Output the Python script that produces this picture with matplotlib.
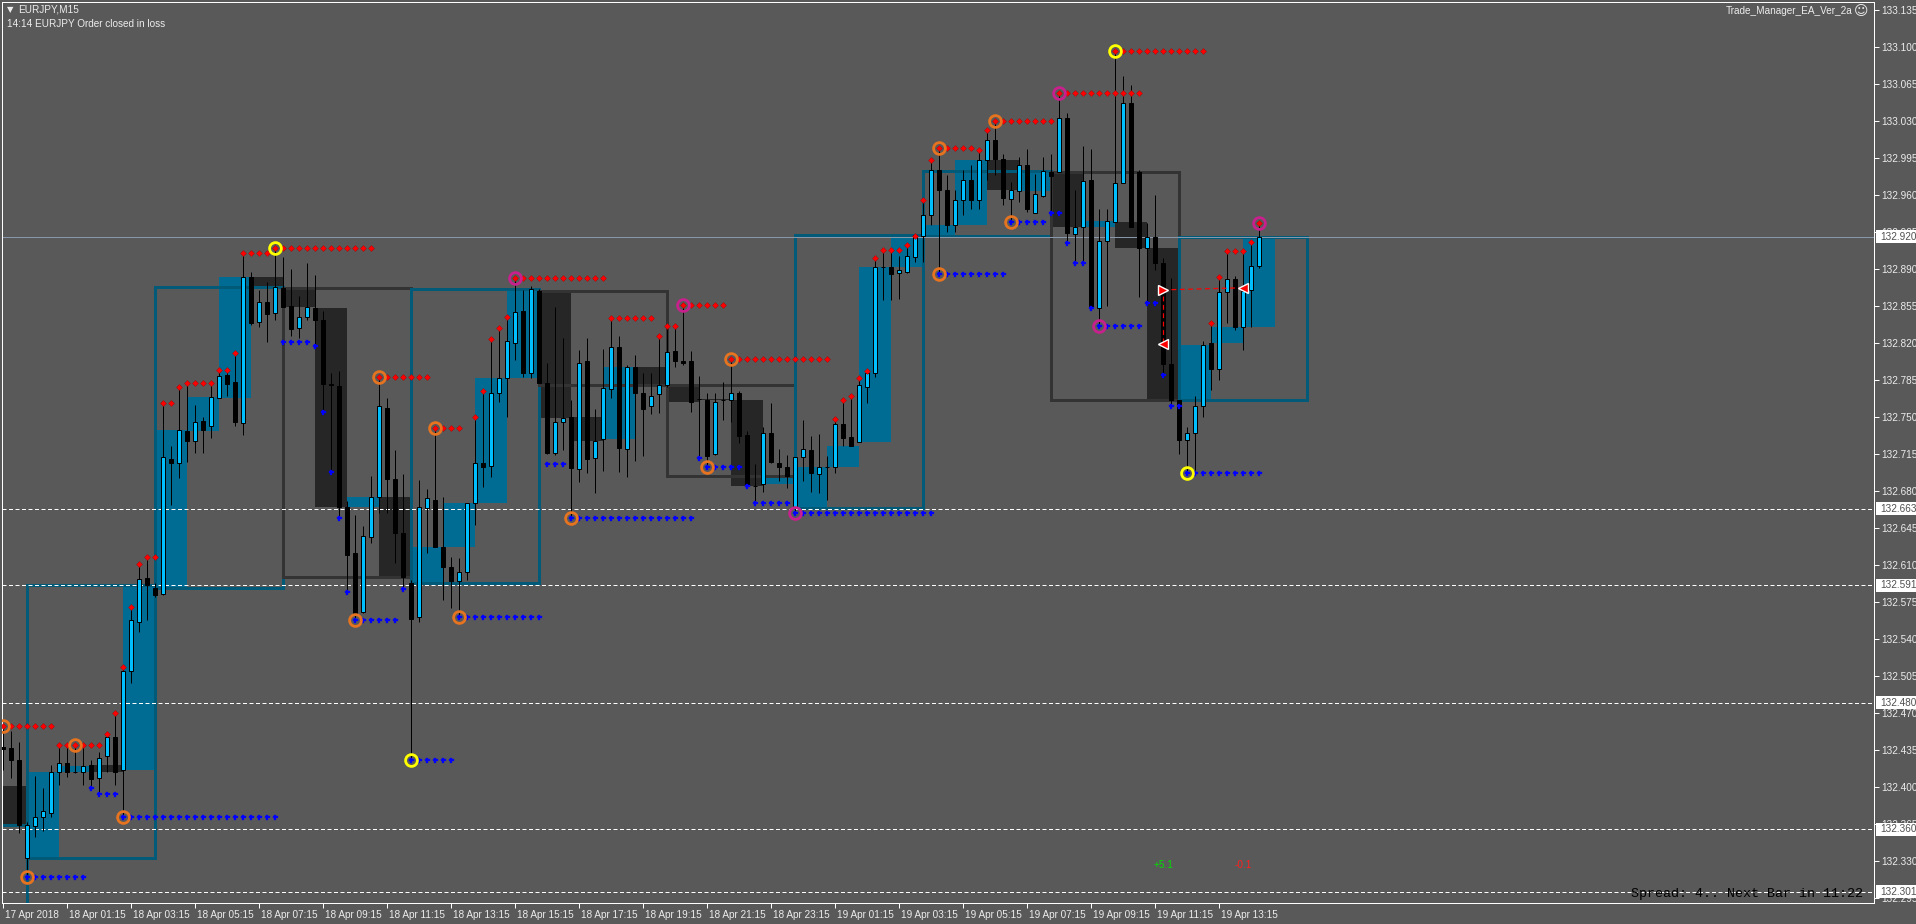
import matplotlib
matplotlib.use("Agg")
import matplotlib.pyplot as plt
import matplotlib.transforms as mtransforms
from matplotlib.patches import Rectangle

# ---- data (EURJPY M15, bar 0 = 17 Apr 23:15) ----
opens = [132.438, 132.437, 132.426, 132.333, 132.363, 132.372, 132.376, 132.414, 132.423, 132.414,
         132.414, 132.421, 132.409, 132.429, 132.447, 132.416, 132.510, 132.556, 132.598, 132.588,
         132.583, 132.710, 132.706, 132.737, 132.727, 132.746, 132.741, 132.768, 132.790, 132.783,
         132.744, 132.882, 132.840, 132.859, 132.848, 132.872, 132.855, 132.834, 132.844, 132.853,
         132.842, 132.781, 132.779, 132.665, 132.621, 132.566, 132.636, 132.674, 132.758, 132.691,
         132.640, 132.593, 132.561, 132.664, 132.671, 132.627, 132.608, 132.595, 132.603, 132.669,
         132.706, 132.704, 132.773, 132.787, 132.820, 132.850, 132.791, 132.869, 132.782, 132.716,
         132.745, 132.750, 132.701, 132.803, 132.711, 132.729, 132.776, 132.816, 132.720, 132.797,
         132.773, 132.760, 132.772, 132.780, 132.812, 132.803, 132.803, 132.767, 132.766, 132.715,
         132.766, 132.766, 132.773, 132.733, 132.685, 132.687, 132.735, 132.706, 132.703, 132.664,
         132.712, 132.719, 132.696, 132.703, 132.703, 132.743, 132.731, 132.726, 132.778, 132.791,
         132.892, 132.892, 132.886, 132.887, 132.901, 132.921, 132.941, 132.983, 132.964, 132.931,
         132.955, 132.974, 132.955, 132.993, 133.012, 132.994, 132.956, 132.963, 132.988, 132.943,
         132.959, 132.981, 132.981, 133.032, 132.923, 132.929, 132.974, 132.853, 132.916, 132.934,
         132.971, 133.047, 132.981, 132.910, 132.920, 132.895, 132.800, 132.766, 132.728, 132.735,
         132.760, 132.820, 132.795, 132.868, 132.880, 132.835, 132.870, 132.893]
highs = [132.457, 132.453, 132.443, 132.367, 132.411, 132.399, 132.421, 132.440, 132.440, 132.440,
         132.440, 132.426, 132.433, 132.450, 132.470, 132.514, 132.570, 132.611, 132.618, 132.593,
         132.763, 132.722, 132.778, 132.782, 132.761, 132.750, 132.780, 132.792, 132.794, 132.810,
         132.905, 132.887, 132.870, 132.877, 132.910, 132.901, 132.890, 132.864, 132.895, 132.884,
         132.850, 132.791, 132.793, 132.670, 132.657, 132.647, 132.694, 132.788, 132.768, 132.719,
         132.696, 132.596, 132.690, 132.682, 132.739, 132.674, 132.618, 132.617, 132.669, 132.750,
         132.774, 132.824, 132.834, 132.844, 132.881, 132.870, 132.874, 132.871, 132.801, 132.854,
         132.825, 132.766, 132.813, 132.825, 132.757, 132.814, 132.843, 132.826, 132.799, 132.808,
         132.791, 132.791, 132.826, 132.836, 132.837, 132.856, 132.812, 132.789, 132.773, 132.773,
         132.783, 132.805, 132.774, 132.737, 132.705, 132.740, 132.763, 132.720, 132.714, 132.712,
         132.747, 132.732, 132.734, 132.713, 132.748, 132.766, 132.770, 132.787, 132.793, 132.900,
         132.908, 132.908, 132.902, 132.912, 132.921, 132.955, 132.993, 133.004, 132.979, 132.964,
         132.983, 132.988, 133.002, 133.021, 133.030, 132.998, 132.972, 132.996, 133.003, 132.980,
         132.996, 132.998, 133.056, 133.037, 132.964, 133.006, 133.003, 132.946, 132.946, 133.096,
         133.072, 133.064, 132.983, 132.933, 132.960, 132.900, 132.881, 132.766, 132.740, 132.770,
         132.822, 132.839, 132.882, 132.905, 132.883, 132.907, 132.915, 132.933]
lows = [132.416, 132.409, 132.357, 132.314, 132.353, 132.359, 132.372, 132.402, 132.410, 132.413,
        132.402, 132.399, 132.394, 132.414, 132.402, 132.372, 132.498, 132.547, 132.558, 132.580,
        132.582, 132.667, 132.692, 132.707, 132.716, 132.716, 132.730, 132.768, 132.770, 132.741,
        132.733, 132.837, 132.835, 132.821, 132.842, 132.854, 132.826, 132.825, 132.842, 132.818,
        132.754, 132.698, 132.654, 132.584, 132.558, 132.565, 132.631, 132.659, 132.659, 132.612,
        132.588, 132.426, 132.556, 132.621, 132.627, 132.577, 132.569, 132.561, 132.596, 132.648,
        132.684, 132.693, 132.764, 132.750, 132.804, 132.788, 132.787, 132.782, 132.715, 132.714,
        132.719, 132.654, 132.688, 132.697, 132.678, 132.699, 132.768, 132.698, 132.693, 132.708,
        132.713, 132.753, 132.754, 132.778, 132.797, 132.799, 132.755, 132.711, 132.703, 132.714,
        132.747, 132.745, 132.725, 132.684, 132.669, 132.679, 132.706, 132.689, 132.683, 132.659,
        132.689, 132.679, 132.678, 132.671, 132.697, 132.722, 132.722, 132.726, 132.763, 132.788,
        132.860, 132.860, 132.861, 132.886, 132.896, 132.896, 132.931, 132.885, 132.925, 132.925,
        132.941, 132.946, 132.946, 132.974, 132.979, 132.950, 132.934, 132.953, 132.944, 132.943,
        132.958, 132.943, 132.981, 132.914, 132.895, 132.895, 132.851, 132.836, 132.855, 132.934,
        132.971, 132.929, 132.863, 132.858, 132.889, 132.790, 132.760, 132.715, 132.697, 132.700,
        132.750, 132.775, 132.785, 132.839, 132.832, 132.813, 132.835, 132.891]
closes = [132.436, 132.426, 132.364, 132.364, 132.372, 132.377, 132.414, 132.423, 132.414, 132.414,
          132.420, 132.408, 132.428, 132.447, 132.414, 132.510, 132.558, 132.597, 132.591, 132.582,
          132.712, 132.706, 132.738, 132.727, 132.745, 132.738, 132.769, 132.789, 132.781, 132.745,
          132.882, 132.839, 132.859, 132.847, 132.873, 132.854, 132.833, 132.844, 132.854, 132.842,
          132.781, 132.780, 132.665, 132.619, 132.565, 132.637, 132.674, 132.760, 132.691, 132.640,
          132.599, 132.559, 132.665, 132.673, 132.627, 132.608, 132.595, 132.603, 132.669, 132.706,
          132.703, 132.773, 132.787, 132.822, 132.849, 132.791, 132.871, 132.782, 132.716, 132.745,
          132.749, 132.702, 132.801, 132.710, 132.727, 132.777, 132.816, 132.721, 132.797, 132.773,
          132.757, 132.770, 132.780, 132.811, 132.803, 132.801, 132.764, 132.767, 132.713, 132.764,
          132.766, 132.773, 132.732, 132.685, 132.685, 132.735, 132.707, 132.703, 132.694, 132.712,
          132.720, 132.697, 132.703, 132.703, 132.743, 132.730, 132.722, 132.780, 132.791, 132.892,
          132.892, 132.885, 132.889, 132.902, 132.922, 132.941, 132.983, 132.964, 132.931, 132.955,
          132.974, 132.955, 132.993, 133.012, 132.994, 132.957, 132.964, 132.988, 132.946, 132.961,
          132.982, 132.978, 133.032, 132.924, 132.929, 132.973, 132.853, 132.916, 132.935, 132.971,
          133.047, 132.929, 132.910, 132.920, 132.895, 132.800, 132.766, 132.728, 132.735, 132.760,
          132.818, 132.795, 132.868, 132.880, 132.835, 132.869, 132.893, 132.920]

prior_h1_open = 132.401   # 17 Apr 23:00 candle, opened before the first visible bar
prior_h4_open = 132.250   # 17 Apr 20:00 candle
first_full_hour = 3       # bar index of 18 Apr 00:00

# resistance (red) / support (blue) dot lines: (first bar, last bar, price)
red_dots = [(0, 6, 132.458), (7, 12, 132.440), (13, 13, 132.450), (14, 14, 132.470), (15, 15, 132.514),
            (16, 16, 132.570), (17, 17, 132.611), (18, 19, 132.618), (20, 21, 132.763), (22, 22, 132.778),
            (23, 26, 132.782), (27, 28, 132.794), (29, 29, 132.810), (30, 33, 132.905), (34, 46, 132.910),
            (47, 53, 132.788), (54, 57, 132.739), (59, 59, 132.750), (60, 60, 132.774), (61, 61, 132.824),
            (62, 62, 132.834), (63, 63, 132.844), (64, 75, 132.881), (76, 81, 132.843), (82, 82, 132.826),
            (83, 84, 132.836), (85, 90, 132.856), (91, 103, 132.805), (104, 104, 132.748), (105, 105, 132.766),
            (106, 106, 132.770), (107, 107, 132.787), (108, 108, 132.793), (109, 109, 132.900),
            (110, 112, 132.908), (113, 113, 132.912), (114, 114, 132.921), (115, 115, 132.955),
            (116, 116, 132.993), (117, 121, 133.004), (122, 122, 133.002), (123, 123, 133.021),
            (124, 131, 133.030), (132, 142, 133.056), (139, 150, 133.096), (151, 151, 132.839),
            (152, 152, 132.882), (153, 155, 132.907), (156, 156, 132.915), (157, 157, 132.933)]
blue_dots = [(3, 10, 132.315), (11, 11, 132.399), (12, 14, 132.394), (15, 34, 132.372), (35, 38, 132.821),
             (39, 39, 132.817), (40, 40, 132.755), (41, 41, 132.698), (42, 42, 132.654), (43, 43, 132.584),
             (44, 49, 132.558), (50, 50, 132.587), (51, 56, 132.426), (57, 67, 132.561), (68, 70, 132.705),
             (71, 86, 132.654), (87, 87, 132.711), (88, 92, 132.703), (93, 93, 132.685), (94, 98, 132.669),
             (99, 116, 132.659), (117, 125, 132.885), (126, 130, 132.934), (131, 132, 132.943),
             (133, 133, 132.914), (134, 135, 132.895), (136, 136, 132.853), (137, 142, 132.836),
             (143, 144, 132.858), (145, 145, 132.790), (146, 147, 132.760), (148, 157, 132.697)]

# fractal rings: (bar, price, colour)
rings = [(0, 132.458, "o"), (3, 132.315, "o"), (9, 132.440, "o"), (15, 132.372, "o"), (34, 132.910, "y"),
         (44, 132.558, "o"), (47, 132.788, "o"), (51, 132.426, "y"), (54, 132.739, "o"), (57, 132.561, "o"),
         (64, 132.881, "m"), (71, 132.654, "o"), (85, 132.856, "m"), (88, 132.703, "o"), (91, 132.805, "o"),
         (99, 132.659, "m"), (117, 133.004, "o"), (117, 132.885, "o"), (124, 133.030, "o"),
         (126, 132.934, "o"), (132, 133.056, "m"), (137, 132.836, "m"), (139, 133.096, "y"),
         (148, 132.697, "y"), (157, 132.933, "m")]

levels = [132.663, 132.591, 132.480, 132.360, 132.301]
bid = 132.920
price_ticks = [round(132.295 + 0.035 * k, 3) for k in range(25)]
time_labels = ["17 Apr 2018", "18 Apr 01:15", "18 Apr 03:15", "18 Apr 05:15", "18 Apr 07:15",
               "18 Apr 09:15", "18 Apr 11:15", "18 Apr 13:15", "18 Apr 15:15", "18 Apr 17:15",
               "18 Apr 19:15", "18 Apr 21:15", "18 Apr 23:15", "19 Apr 01:15", "19 Apr 03:15",
               "19 Apr 05:15", "19 Apr 07:15", "19 Apr 09:15", "19 Apr 11:15", "19 Apr 13:15"]
trade_open = (145, 132.870)
trade_close = (155, 132.872)
trade_stop = (145, 132.819)
profits = [(145, "+5.1", "#00e000"), (155, "-0.1", "#ff2020")]

# ---- style ----
W, H, DPI = 1916, 924, 100
BG = "#595959"
PX = 72 / DPI
TXT = "#ececec"
FS = 7.2
plt.rcParams["font.family"] = ["Liberation Sans", "DejaVu Sans"]
ring_col = {"o": "#e5731f", "y": "#ffff00", "m": "#c8208c"}

fig = plt.figure(figsize=(W / DPI, H / DPI), dpi=DPI, facecolor=BG)
ax = fig.add_axes([2 / W, 1 - 903 / H, 1872 / W, 901 / H])
ax.set_facecolor(BG)
ax.set_xlim(-0.125, 233.875)
ax.set_ylim(133.144 - 903 / 1058, 133.144 - 2 / 1058)
for s in ax.spines.values():
    s.set_color("white")
    s.set_linewidth(PX)

n = len(opens)


def period_boxes(step, prior_open):
    starts = [0] + list(range(first_full_hour, n, step))
    out = []
    for k, s in enumerate(starts):
        e = starts[k + 1] if k + 1 < len(starts) else n
        o = prior_open if s == 0 else opens[s]
        left = first_full_hour - step if s == 0 else s
        out.append((left, o, closes[e - 1]))
    return out


# H1 bodies (filled)
for left, o, c in period_boxes(4, prior_h1_open):
    col = "#006c94" if c >= o else "#262626"
    ax.add_patch(Rectangle((left, min(o, c)), 4, abs(c - o), facecolor=col, edgecolor="none", zorder=1))
# H4 bodies (outlined)
for left, o, c in period_boxes(16, prior_h4_open):
    col = "#005a78" if c >= o else "#333333"
    ax.add_patch(Rectangle((left, min(o, c)), 16, abs(c - o), facecolor="none", edgecolor=col,
                           linewidth=3 * PX, zorder=1.5))

for lv in levels:
    ax.axhline(lv, color="white", lw=PX, ls=(0, (4, 2.5)), zorder=2)
ax.axhline(bid, color="#8898aa", lw=PX, zorder=2)

# candles
idx = list(range(n))
ax.vlines(idx, lows, highs, color="black", lw=PX, zorder=3)
body_col = ["#00bfff" if c > o else "black" for o, c in zip(opens, closes)]
ax.bar(idx, [abs(c - o) for o, c in zip(opens, closes)], bottom=[min(o, c) for o, c in zip(opens, closes)],
       width=0.62, color=body_col, edgecolor="black", linewidth=PX, zorder=3.5)

# dot lines
for a, b, p in red_dots:
    xs = list(range(a, b + 1))
    ax.plot(xs, [p] * len(xs), ls="", marker="D", ms=3.0, color="#ff0000", mec="#b00000", mew=0.3, zorder=4)
for a, b, p in blue_dots:
    xs = list(range(a, b + 1))
    ax.plot(xs, [p] * len(xs), ls="", marker="P", ms=3.6, color="#0000ff", mec="#0000ff", mew=0.2, zorder=4)
for i, p, c in rings:
    ax.plot([i], [p], ls="", marker="o", ms=8.5, mfc="none", mec=ring_col[c], mew=2.0, zorder=5)

# trade
ax.plot([trade_open[0], trade_close[0]], [trade_open[1], trade_close[1]], color="#ff0000", lw=PX * 1.2,
        ls=(0, (4, 3)), zorder=6)
ax.plot([trade_stop[0], trade_stop[0]], [trade_open[1] - 0.006, trade_stop[1]], color="#ff0000",
        lw=PX * 1.2, ls=(0, (4, 3)), zorder=6)
ax.plot([trade_open[0]], [trade_open[1]], marker=">", ms=7, color="#ff0000", mec="white", mew=1, zorder=7)
ax.plot([trade_close[0]], [trade_close[1]], marker="<", ms=7, color="#ff0000", mec="white", mew=1, zorder=7)
ax.plot([trade_stop[0]], [trade_stop[1]], marker="<", ms=7, color="#ff0000", mec="white", mew=1, zorder=7)
for i, t, c in profits:
    ax.text(i, 132.326, t, color=c, fontsize=FS, ha="center", va="center", zorder=7)

# price axis
ax.yaxis.tick_right()
ax.set_yticks(price_ticks)
ax.set_yticklabels([f"{p:.3f}" for p in price_ticks])
ax.tick_params(axis="y", right=True, left=False, length=3.5, width=PX, color="white", labelcolor=TXT,
               labelsize=FS, pad=2)
tr = mtransforms.blended_transform_factory(ax.transAxes, ax.transData)
for p in levels + [bid]:
    ax.add_patch(Rectangle((1874 / 1872 - 2 / 1872 + 0.0011, p - 6.5 / 1058), 42 / 1872, 13 / 1058,
                           transform=tr, facecolor="white", edgecolor="none", clip_on=False, zorder=10))
    ax.text(1878 / 1872, p, f"{p:.3f}", transform=tr, color="#505050", fontsize=FS, va="center",
            ha="left", clip_on=False, zorder=11)

# time axis
ax.set_xticks(list(range(0, 8 * len(time_labels), 8)))
ax.set_xticklabels(time_labels, ha="left")
ax.tick_params(axis="x", bottom=True, length=3.5, width=PX, color="white", labelcolor=TXT, labelsize=FS,
               pad=1.5)
off = mtransforms.ScaledTranslation(2 / DPI, 0, fig.dpi_scale_trans)
for lab in ax.get_xticklabels():
    lab.set_transform(lab.get_transform() + off)

# annotations
fig.text(7 / W, 1 - 10 / H, "\u25bc", color=TXT, fontsize=6, va="center", ha="left", family="DejaVu Sans")
fig.text(18 / W, 1 - 10 / H, "EURJPY,M15", color=TXT, fontsize=FS, va="center", ha="left")
fig.text(7 / W, 1 - 24 / H, "14:14 EURJPY Order closed in loss", color=TXT, fontsize=FS, va="center", ha="left")
fig.text(1852 / W, 1 - 11 / H, "Trade_Manager_EA_Ver_2a", color=TXT, fontsize=FS, va="center", ha="right")
fig.text(1861 / W, 1 - 11 / H, "\u263a", color=TXT, fontsize=10, va="center", ha="center", family="DejaVu Sans")
fig.text(1863 / W, 1 - 894 / H, "Spread: 4.. Next Bar in 11:22", color="black", fontsize=9.6,
         family="Liberation Mono", va="center", ha="right")

fig.savefig("out.png", dpi=DPI, facecolor=BG)
